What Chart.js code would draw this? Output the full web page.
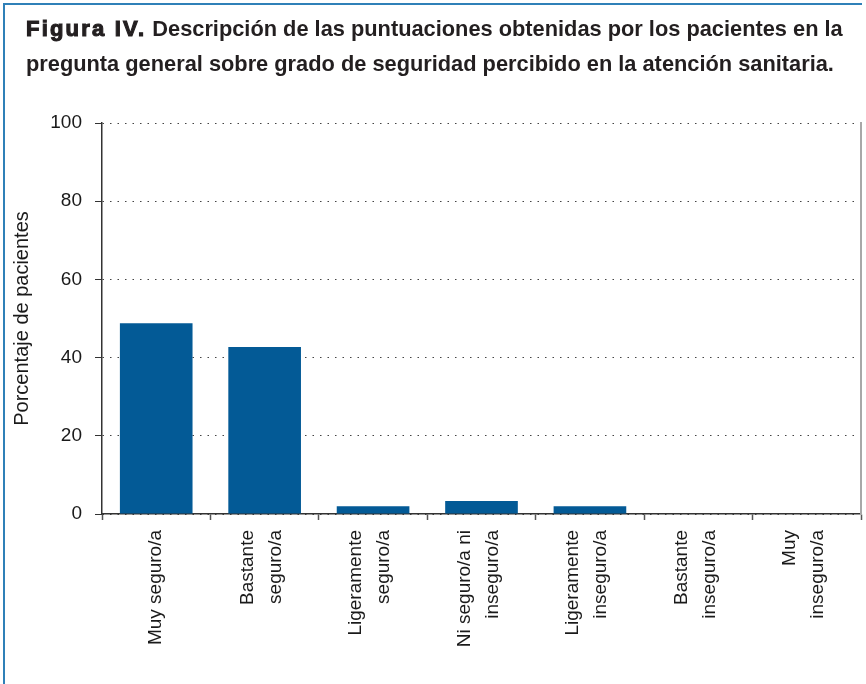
<!DOCTYPE html>
<html>
<head>
<meta charset="utf-8">
<script src="https://cdn.jsdelivr.net/npm/chart.js@4"></script>
<style>
    html, body { margin: 0; padding: 0; background: #fff; }
    .figure {
        position: relative;
        width: 866px;
        height: 684px;
        overflow: hidden;
    }
    .frame {
        position: absolute;
        left: 3px;
        top: 3px;
        right: 4px;
        bottom: -10px;
        border-left: 2px solid #2f80b8;
        border-top: 2px solid #2f80b8;
    }
    .caption {
        position: absolute;
        left: 26px;
        top: 11px;
        font-family: "Liberation Sans", Arial, sans-serif;
        font-weight: bold;
        font-size: 21.8px;
        line-height: 35px;
        color: #231f20;
        white-space: nowrap;
        z-index: 2;
    }
    .caption b {
        font-weight: 900;
        font-size: 22px;
        letter-spacing: 2.2px;
        -webkit-text-stroke: 1.1px #231f20;
    }
    #barChart {
        position: absolute;
        left: 0;
        top: 0;
    }
</style>
</head>
<body>
<div class="figure">
    <div class="frame"></div>
    <div class="caption">
        <b>Figura IV.</b> Descripción de las puntuaciones obtenidas por los pacientes en la<br>
        pregunta general sobre grado de seguridad percibido en la atención sanitaria.
    </div>
    <canvas id="barChart" width="866" height="684"></canvas>
</div>

<script>
const categories = [
    ['', 'Muy seguro/a'],
    ['Bastante', 'seguro/a'],
    ['Ligeramente', 'seguro/a'],
    ['Ni seguro/a ni', 'inseguro/a'],
    ['Ligeramente', 'inseguro/a'],
    ['Bastante', 'inseguro/a'],
    ['Muy', 'inseguro/a']
];
const percentages = [48.8, 42.7, 2.0, 3.3, 2.0, 0, 0];
const yMin = 0;
const yMax = 100;
const yStep = 20;
const yTitle = 'Porcentaje de pacientes';

const labelFont = 'Liberation Sans, Arial, Helvetica, sans-serif';
const inkColor = '#1a1a1a';

const ctx = document.getElementById('barChart').getContext('2d');
const barChart = new Chart(ctx, {
    type: 'bar',
    data: {
        labels: categories,
        datasets: [{
            label: yTitle,
            data: percentages,
            backgroundColor: '#035a96',
            borderWidth: 0,
            barPercentage: 0.67,
            categoryPercentage: 1
        }]
    },
    options: {
        responsive: false,
        animation: false,
        layout: {
            padding: { left: 0, right: 5, top: 123, bottom: 0 }
        },
        plugins: {
            legend: { display: false },
            tooltip: { enabled: false }
        },
        scales: {
            x: {
                offset: true,
                grid: {
                    offset: true,
                    drawOnChartArea: false,
                    drawTicks: true,
                    tickLength: 6,
                    tickColor: '#555',
                    tickWidth: 1.5
                },
                border: { display: true, color: '#333', width: 1.5 },
                ticks: {
                    autoSkip: false,
                    maxRotation: 90,
                    minRotation: 90,
                    padding: 10,
                    labelOffset: -17,
                    color: inkColor,
                    // first label carries an empty line so its text sits on the category centre
                    font: c => ({
                        family: labelFont,
                        size: 19,
                        lineHeight: c.index === 0 ? '17px' : '28px'
                    })
                },
                afterFit: scale => {
                    scale.height = 170;
                    // rotated labels fit inside their categories, no side padding needed
                    scale.paddingLeft = 0;
                    scale.paddingRight = 0;
                }
            },
            y: {
                min: yMin,
                max: yMax,
                grid: {
                    color: '#444',
                    lineWidth: 1,
                    tickLength: 7,
                    tickColor: '#333',
                    tickWidth: 1,
                    tickBorderDash: []
                },
                border: { display: true, color: '#333', width: 1.5, dash: [1.5, 6] },
                ticks: {
                    stepSize: yStep,
                    padding: 13,
                    color: inkColor,
                    font: { family: labelFont, size: 19 }
                },
                title: {
                    display: true,
                    text: yTitle,
                    color: inkColor,
                    padding: { top: 10, bottom: 0 },
                    font: { family: labelFont, size: 20 }
                },
                afterFit: scale => { scale.width = 102; }
            },
            // plain grey frame line along the right edge of the plot
            yRight: {
                position: 'right',
                min: yMin,
                max: yMax,
                ticks: { display: false },
                grid: { drawOnChartArea: false, drawTicks: false },
                border: { display: true, color: '#a8a8a8', width: 2 },
                afterFit: scale => { scale.width = 0; }
            }
        }
    }
});
</script>
</body>
</html>
